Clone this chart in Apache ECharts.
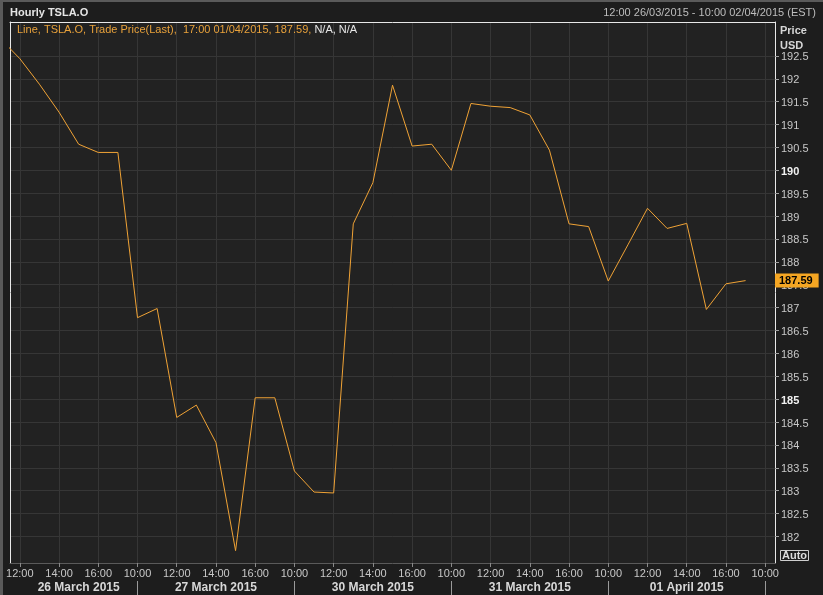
<!DOCTYPE html>
<html><head><meta charset="utf-8">
<script src="https://cdn.jsdelivr.net/npm/echarts@6/dist/echarts.min.js"></script>
<style>html,body{margin:0;padding:0;background:#1d1d1d;overflow:hidden}#c{width:823px;height:595px}</style>
</head><body><div id="c"></div>
<script>
// ---- data ----
const dayNames = ['26 March 2015', '27 March 2015', '30 March 2015', '31 March 2015', '01 April 2015', '02 April 2015'];
const sessionHours = ['10:00', '11:00', '12:00', '13:00', '14:00', '15:00', '16:00', '17:00'];
const price26Mar = [null, 192.88, 192.44, 191.88, 191.27, 190.57, 190.39, 190.39];
const price27Mar = [186.78, 186.98, 184.60, 184.87, 184.05, 181.69, 185.03, 185.03];
const price30Mar = [183.43, 182.97, 182.95, 188.83, 189.73, 191.86, 190.53, 190.57];
const price31Mar = [190.00, 191.46, 191.40, 191.37, 191.21, 190.44, 188.83, 188.77];
const price01Apr = [187.58, 188.37, 189.17, 188.73, 188.84, 186.96, 187.52, 187.59];
const priceTicks = [182, 182.5, 183, 183.5, 184, 184.5, 185, 185.5, 186, 186.5, 187, 187.5,
  188, 188.5, 189, 189.5, 190, 190.5, 191, 191.5, 192, 192.5];
const timeTickHours = ['10:00', '12:00', '14:00', '16:00'];

// ---- build ----
const perDay = [price26Mar, price27Mar, price30Mar, price31Mar, price01Apr];
const H = sessionHours.length;
const seriesData = [];
perDay.forEach((arr, d) => arr.forEach((p, h) => { if (p !== null) seriesData.push([d * H + h, p]); }));
const xMin = 1.5, xMax = 40.5;
const timeTicks = [];
for (let d = 0; d < dayNames.length; d++) {
  timeTickHours.forEach(t => {
    const g = d * H + sessionHours.indexOf(t);
    if (g > xMin && g < xMax) timeTicks.push(g);
  });
}
const daySeparators = [];
for (let d = 1; d < dayNames.length; d++) if (d * H < xMax) daySeparators.push(d * H);
const dayCenters = [];
for (let d = 0; d < perDay.length; d++) {
  const s = Math.max(d * H, timeTicks[0]);
  dayCenters.push((s + (d + 1) * H) / 2);
}
const lastPrice = price01Apr[price01Apr.length - 1];

const FONT = 'Liberation Sans, Arial, sans-serif';
const chart = echarts.init(document.getElementById('c'), null, {renderer: 'canvas'});
chart.setOption({
  backgroundColor: '#1d1d1d',
  animation: false,
  textStyle: {fontFamily: FONT},
  title: [
    {text: 'Hourly TSLA.O', left: 10, top: 7, padding: 0,
      textStyle: {color: '#e6e6e6', fontSize: 11, fontWeight: 'bold', fontFamily: FONT}},
    {text: '12:00 26/03/2015 - 10:00 02/04/2015 (EST)', right: 7, top: 7, padding: 0,
      textStyle: {color: '#bdbdbd', fontSize: 11, fontWeight: 'normal', fontFamily: FONT}},
    {text: '{o|Line, TSLA.O, Trade Price(Last),  17:00 01/04/2015, ' + lastPrice.toFixed(2) + ',} {w|N/A, N/A}',
      left: 17, top: 24, padding: 0,
      textStyle: {fontSize: 11, fontWeight: 'normal', fontFamily: FONT,
        rich: {o: {color: '#e9a23b', fontSize: 11, fontFamily: FONT}, w: {color: '#e6e6e6', fontSize: 11, fontFamily: FONT}}}},
    {text: 'Price\nUSD', left: 780, top: 23, padding: 0,
      textStyle: {color: '#d6d6d6', fontSize: 11, fontWeight: 'bold', lineHeight: 15, fontFamily: FONT}},
    {text: 'Auto', left: 780, top: 550, padding: [0, 2], borderColor: '#cfcfcf', borderWidth: 1,
      textStyle: {color: '#dcdcdc', fontSize: 11, fontWeight: 'bold', fontFamily: FONT}}
  ],
  graphic: [
    {type: 'rect', shape: {x: 0, y: 0, width: 823, height: 2}, style: {fill: '#5a5a5a'}, silent: true},
    {type: 'rect', shape: {x: 0, y: 0, width: 3, height: 595}, style: {fill: '#5a5a5a'}, silent: true}
  ],
  grid: {left: 10, right: 48, top: 22, bottom: 32, show: true, backgroundColor: '#222222', borderWidth: 0},
  xAxis: [
    {type: 'value', min: xMin, max: xMax, position: 'bottom',
      axisLine: {show: true, lineStyle: {color: '#5a5a5a'}},
      axisTick: {show: true, customValues: timeTicks, length: 4, lineStyle: {color: '#8a8a8a'}},
      axisLabel: {customValues: timeTicks, margin: 5, color: '#c8c8c8', fontSize: 11, fontFamily: FONT,
        formatter: v => sessionHours[Math.round(v) % H]},
      splitLine: {show: true, lineStyle: {color: '#363636', width: 1}}},
    {type: 'value', min: xMin, max: xMax, position: 'bottom', offset: 18,
      axisLine: {show: false},
      axisTick: {show: true, customValues: daySeparators, length: 14, lineStyle: {color: '#9a9a9a'}},
      axisLabel: {customValues: dayCenters, margin: 1, color: '#d8d8d8', fontSize: 12, fontWeight: 'bold', fontFamily: FONT,
        formatter: v => dayNames[Math.floor(v / H)]},
      splitLine: {show: false}},
    {type: 'value', min: xMin, max: xMax, position: 'top',
      axisLine: {show: true, lineStyle: {color: '#e8e8e8'}},
      axisTick: {show: false}, axisLabel: {show: false}, splitLine: {show: false}}
  ],
  yAxis: [
    {type: 'value', min: 181.42, max: 193.24, position: 'right',
      axisLine: {show: true, lineStyle: {color: '#e8e8e8'}},
      axisTick: {show: true, customValues: priceTicks, length: 4, lineStyle: {color: '#a0a0a0'}},
      axisLabel: {customValues: priceTicks, margin: 6, color: '#c8c8c8', fontSize: 11, fontFamily: FONT, padding: [3, 0, 0, 0],
        formatter: v => (v % 5 === 0 ? '{b|' + v + '}' : String(v)),
        rich: {b: {fontWeight: 'bold', color: '#f2f2f2', fontSize: 11, fontFamily: FONT}}},
      splitLine: {show: true, lineStyle: {color: '#363636', width: 1}}},
    {type: 'value', min: 181.42, max: 193.24, position: 'left',
      axisLine: {show: true, lineStyle: {color: '#e8e8e8'}},
      axisTick: {show: false}, axisLabel: {show: false}, splitLine: {show: false}}
  ],
  series: [{
    type: 'line', xAxisIndex: 0, yAxisIndex: 0, data: seriesData,
    showSymbol: false, symbol: 'none', clip: true,
    lineStyle: {color: '#f0a336', width: 1},
    markLine: {
      silent: true, symbol: ['none', 'none'], lineStyle: {color: 'rgba(0,0,0,0)', width: 0, type: 'solid'},
      data: [{yAxis: lastPrice}],
      label: {show: true, position: 'end', distance: 0, formatter: lastPrice.toFixed(2),
        backgroundColor: '#f5a623', color: '#000', fontWeight: 'bold', fontSize: 11, fontFamily: FONT,
        padding: [2, 6, 1, 4]}
    }
  }]
});
</script></body></html>
